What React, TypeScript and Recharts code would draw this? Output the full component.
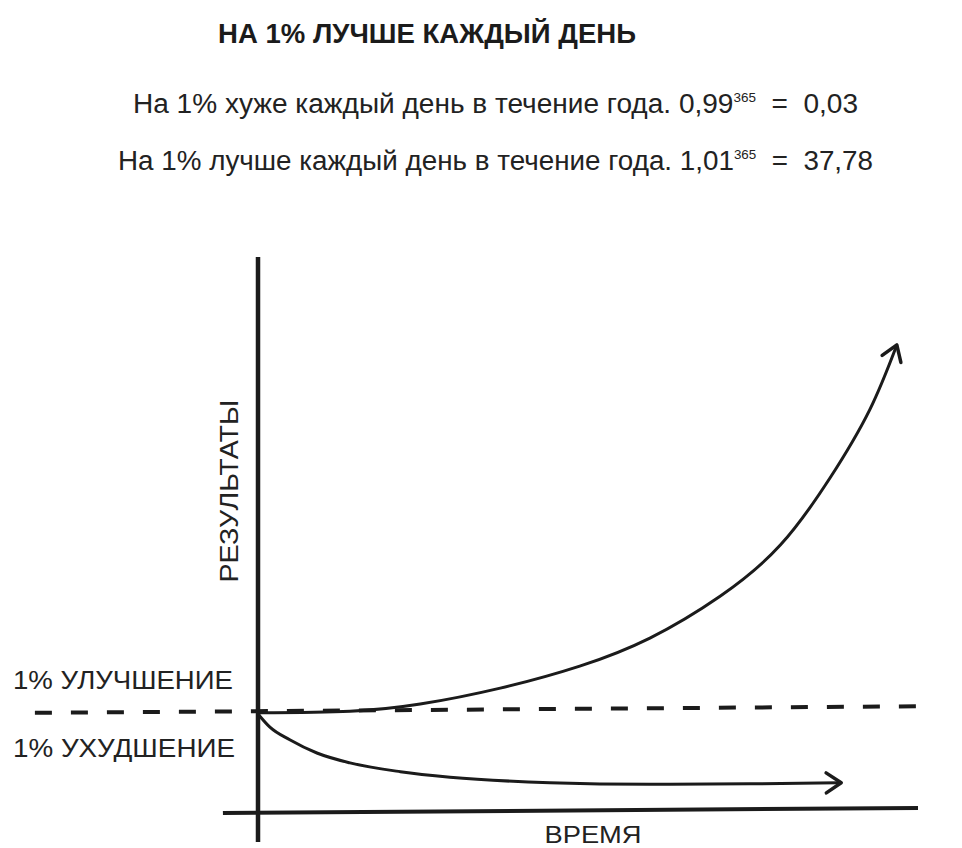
import { ComposedChart, Line, ReferenceLine, XAxis, YAxis } from "recharts";

// time (0..100) vs result (0..100)
const growthCurve = [
  { t: 0, v: 17.3 },
  { t: 13.9, v: 17.6 },
  { t: 24.5, v: 18.9 },
  { t: 36.6, v: 21.8 },
  { t: 48.6, v: 25.8 },
  { t: 59.2, v: 30.9 },
  { t: 69.8, v: 38.5 },
  { t: 78.9, v: 47.8 },
  { t: 86.4, v: 60.0 },
  { t: 92.4, v: 72.4 },
  { t: 96.5, v: 84.2 },
];

const declineCurve = [
  { t: 0, v: 17.1 },
  { t: 1.8, v: 14.7 },
  { t: 4.8, v: 12.4 },
  { t: 8.9, v: 10.0 },
  { t: 13.9, v: 8.2 },
  { t: 21.5, v: 6.6 },
  { t: 29.0, v: 5.6 },
  { t: 44.1, v: 4.6 },
  { t: 59.2, v: 4.3 },
  { t: 74.3, v: 4.4 },
  { t: 88.1, v: 4.6 },
];

const baseline = [
  { x: -33.7, y: 17.3 },
  { x: 100, y: 18.5 },
];
const timeAxis = [
  { x: -5.3, y: -0.9 },
  { x: 99.7, y: 0 },
];
const resultAxis = [
  { x: 0, y: 100.2 },
  { x: 0, y: -6.2 },
];

const title = "НА 1% ЛУЧШЕ КАЖДЫЙ ДЕНЬ";
const worseLine = ["На 1% хуже каждый день в течение года. 0,99", "365", "\u00A0\u00A0=\u00A0\u00A00,03"];
const betterLine = ["На 1% лучше каждый день в течение года. 1,01", "365", "\u00A0\u00A0=\u00A0\u00A037,78"];
const upLabel = "1% УЛУЧШЕНИЕ";
const downLabel = "1% УХУДШЕНИЕ";
const yLabel = "РЕЗУЛЬТАТЫ";
const xLabel = "ВРЕМЯ";

const ink = "#1b1b1b";
const font = "'Liberation Sans', Arial, sans-serif";
const narrow = "'Liberation Sans Narrow', 'Liberation Sans', Arial, sans-serif";

export default function App() {
  return (
    <div style={{ position: "absolute", left: 0, top: 0, width: 962, height: 848, background: "#fff" }}>
      <ComposedChart
        width={962}
        height={848}
        margin={{ top: 258, right: 42, bottom: 40, left: 258 }}
      >
        <defs>
          <marker
            id="chevron"
            markerUnits="userSpaceOnUse"
            markerWidth={40}
            markerHeight={40}
            viewBox="-20 -20 40 40"
            refX={0}
            refY={0}
            orient="auto"
            overflow="visible"
          >
            <path d="M -15 -10 L 0 0 L -15 10" fill="none" stroke={ink} strokeWidth={3.5} strokeLinecap="round" strokeLinejoin="round" />
          </marker>
        </defs>
        <XAxis dataKey="t" type="number" domain={[0, 100]} hide />
        <YAxis type="number" domain={[0, 100]} hide />
        <ReferenceLine segment={baseline} stroke={ink} strokeWidth={4} strokeDasharray="17 19" ifOverflow="visible" />
        <ReferenceLine segment={timeAxis} stroke={ink} strokeWidth={4} ifOverflow="visible" />
        <ReferenceLine segment={resultAxis} stroke={ink} strokeWidth={4.5} ifOverflow="visible" />
        <Line
          data={growthCurve}
          dataKey="v"
          type="natural"
          stroke={ink}
          strokeWidth={3}
          dot={false}
          activeDot={false}
          markerEnd="url(#chevron)"
          isAnimationActive={false}
        />
        <Line
          data={declineCurve}
          dataKey="v"
          type="monotone"
          stroke={ink}
          strokeWidth={3}
          dot={false}
          activeDot={false}
          markerEnd="url(#chevron)"
          isAnimationActive={false}
        />
        <text x={427} y={43} textAnchor="middle" fontFamily={font} fontWeight="bold" fontSize={27} fill={ink} textLength={418} lengthAdjust="spacingAndGlyphs">
          {title}
        </text>
        <text x={133} y={113} fontFamily={narrow} fontSize={27} fill="#222" textLength={725} lengthAdjust="spacingAndGlyphs">
          {worseLine[0]}
          <tspan fontSize={13} dy={-11}>{worseLine[1]}</tspan>
          <tspan dy={11}>{worseLine[2]}</tspan>
        </text>
        <text x={118} y={170} fontFamily={narrow} fontSize={27} fill="#222" textLength={755} lengthAdjust="spacingAndGlyphs">
          {betterLine[0]}
          <tspan fontSize={13} dy={-11}>{betterLine[1]}</tspan>
          <tspan dy={11}>{betterLine[2]}</tspan>
        </text>
        <text x={13} y={689} fontFamily={font} fontSize={25} fill="#222" textLength={220} lengthAdjust="spacingAndGlyphs">
          {upLabel}
        </text>
        <text x={13} y={757} fontFamily={font} fontSize={25} fill="#222" textLength={222} lengthAdjust="spacingAndGlyphs">
          {downLabel}
        </text>
        <text x={238} y={491} transform="rotate(-90 238 491)" textAnchor="middle" fontFamily={font} fontSize={26} fill="#222" textLength={183} lengthAdjust="spacingAndGlyphs">
          {yLabel}
        </text>
        <text x={593} y={843} textAnchor="middle" fontFamily={font} fontSize={24} fill="#222" textLength={97} lengthAdjust="spacingAndGlyphs">
          {xLabel}
        </text>
      </ComposedChart>
    </div>
  );
}
